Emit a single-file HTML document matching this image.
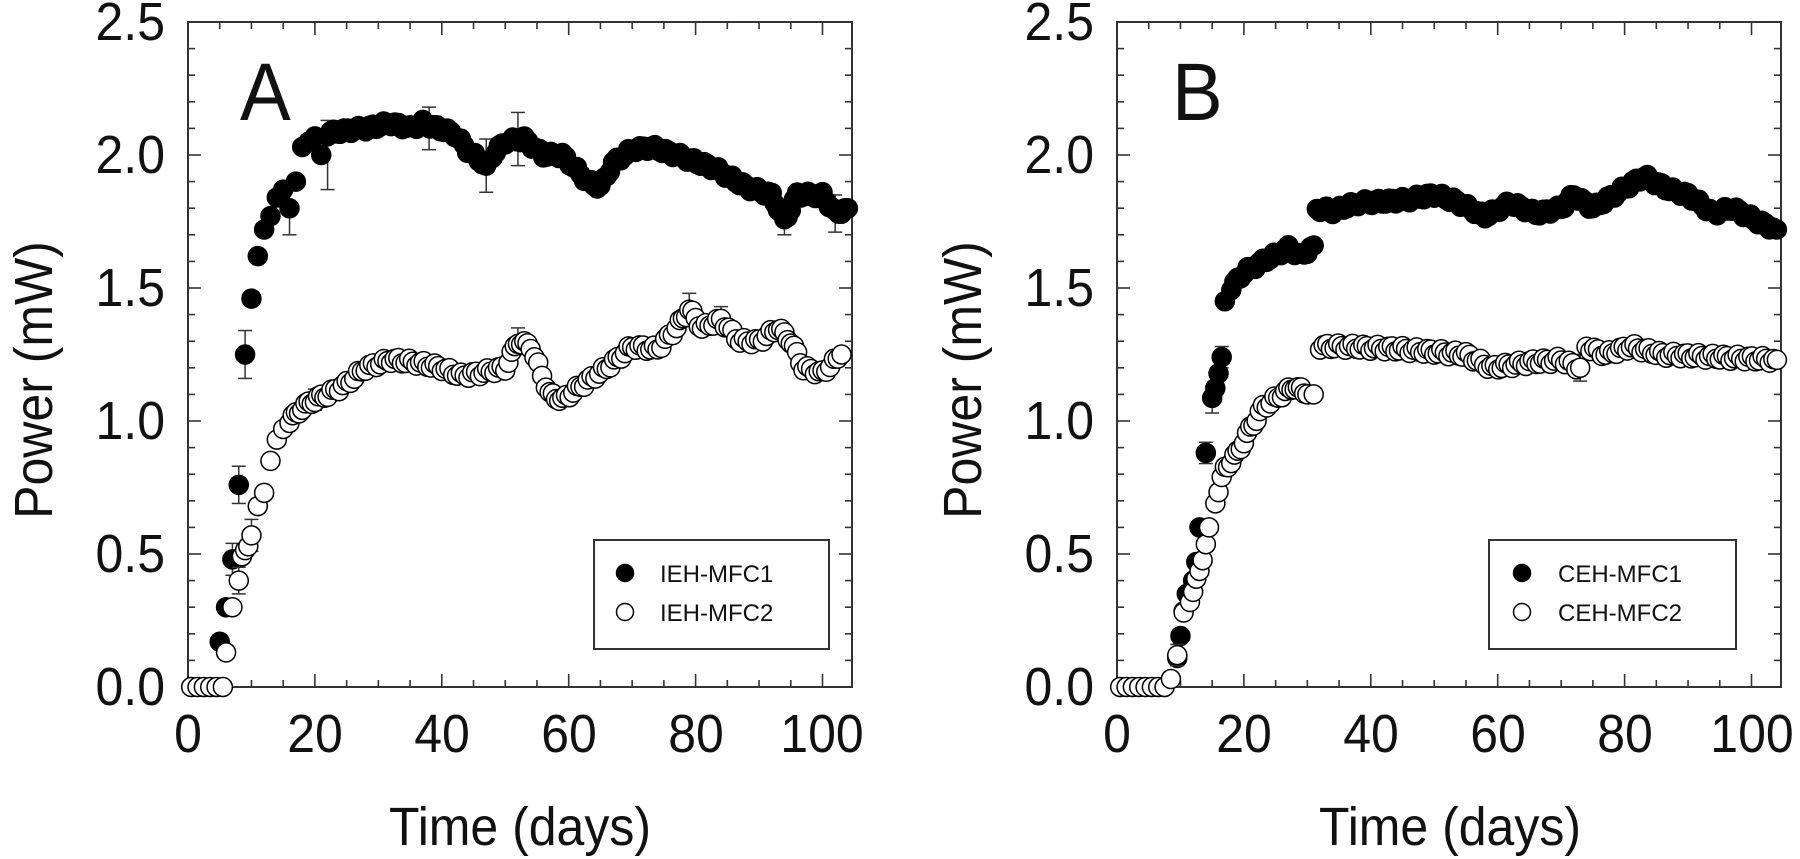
<!DOCTYPE html>
<html><head><meta charset="utf-8"><style>
html,body{margin:0;padding:0;background:#fff;}
svg{display:block;font-family:"Liberation Sans",Arial,sans-serif;}
</style></head><body>
<svg id="s" width="1800" height="859" viewBox="0 0 1800 859" xmlns="http://www.w3.org/2000/svg">
<g font-size="50" fill="#111" text-anchor="end">
<g transform="translate(0,40) scale(1,1.08)"><text x="165" y="0">2.5</text></g>
<g transform="translate(0,173) scale(1,1.08)"><text x="165" y="0">2.0</text></g>
<g transform="translate(0,306) scale(1,1.08)"><text x="165" y="0">1.5</text></g>
<g transform="translate(0,439) scale(1,1.08)"><text x="165" y="0">1.0</text></g>
<g transform="translate(0,572) scale(1,1.08)"><text x="165" y="0">0.5</text></g>
<g transform="translate(0,705) scale(1,1.08)"><text x="165" y="0">0.0</text></g>
<g transform="translate(0,40) scale(1,1.08)"><text x="1094" y="0">2.5</text></g>
<g transform="translate(0,173) scale(1,1.08)"><text x="1094" y="0">2.0</text></g>
<g transform="translate(0,306) scale(1,1.08)"><text x="1094" y="0">1.5</text></g>
<g transform="translate(0,439) scale(1,1.08)"><text x="1094" y="0">1.0</text></g>
<g transform="translate(0,572) scale(1,1.08)"><text x="1094" y="0">0.5</text></g>
<g transform="translate(0,705) scale(1,1.08)"><text x="1094" y="0">0.0</text></g>
</g>
<g font-size="50" fill="#111" text-anchor="middle">
<g transform="translate(0,752) scale(1,1.08)">
<text x="188" y="0">0</text><text x="315" y="0">20</text><text x="442" y="0">40</text><text x="569" y="0">60</text><text x="696" y="0">80</text><text x="822" y="0">100</text>
<text x="1117" y="0">0</text><text x="1244" y="0">20</text><text x="1371" y="0">40</text><text x="1498" y="0">60</text><text x="1625" y="0">80</text><text x="1752" y="0">100</text>
</g>
<g transform="translate(0,845) scale(1,1.08)"><text x="520" y="0">Time (days)</text><text x="1450" y="0">Time (days)</text></g>
<text transform="translate(52,380) rotate(-90) scale(1,1.08)">Power (mW)</text>
<text transform="translate(981,380) rotate(-90) scale(1,1.08)">Power (mW)</text>
</g>
<text transform="translate(240,120) scale(1,1.08)" font-size="76" fill="#111">A</text>
<text transform="translate(1172,120) scale(1,1.08)" font-size="76" fill="#111">B</text>
<g id="plots"></g>
<g font-size="24" fill="#111">
<rect x="594" y="540" width="235" height="109" fill="#fff" stroke="#333" stroke-width="2"/>
<circle cx="625" cy="573" r="8.5" fill="#000" stroke="#000" stroke-width="1.5"/>
<circle cx="625" cy="612" r="8.5" fill="#fff" stroke="#000" stroke-width="1.5"/>
<text x="660" y="582">IEH-MFC1</text><text x="660" y="621">IEH-MFC2</text>
<rect x="1489" y="540" width="247" height="109" fill="#fff" stroke="#333" stroke-width="2"/>
<circle cx="1522" cy="573" r="8.5" fill="#000" stroke="#000" stroke-width="1.5"/>
<circle cx="1522" cy="612" r="8.5" fill="#fff" stroke="#000" stroke-width="1.5"/>
<text x="1558" y="582">CEH-MFC1</text><text x="1558" y="621">CEH-MFC2</text>
</g>
</svg>
<script>
(function(){
var NS="http://www.w3.org/2000/svg";
var g=document.getElementById('plots');
function el(n,a){var e=document.createElementNS(NS,n);for(var k in a)e.setAttribute(k,a[k]);g.appendChild(e);return e;}
function axes(x0){
 var L=x0,R=x0+664,T=22,B=687;
 el('rect',{x:L,y:T,width:R-L,height:B-T,fill:'none',stroke:'#333','stroke-width':2});
 for(var d=0;d<=105;d+=5){var x=x0+d*6.345;if(x>R-1)break;var len=(d%20==0)?13:7;
  el('line',{x1:x,y1:B,x2:x,y2:B-len,stroke:'#333','stroke-width':1.6});
  el('line',{x1:x,y1:T,x2:x,y2:T+len,stroke:'#333','stroke-width':1.6});}
 for(var i=0;i<=25;i++){var y=B-i*26.6;var len=(i%5==0)?13:7;
  el('line',{x1:L,y1:y,x2:L+len,y2:y,stroke:'#333','stroke-width':1.6});
  el('line',{x1:R,y1:y,x2:R-len,y2:y,stroke:'#333','stroke-width':1.6});}
}
function pts(k){var out=[];for(var i=0;i<k.length-1;i++){var a=k[i],b=k[i+1];var dx=b[0]-a[0];var n=dx>1.2?Math.max(1,Math.round(dx/0.55)):1;for(var j=0;j<n;j++){var t=j/n;out.push([a[0]+dx*t,a[1]+(b[1]-a[1])*t+(dx>1.2?Math.sin((a[0]+dx*t)*3.1)*0.012:0)]);}}out.push(k[k.length-1]);return out;}
function series(x0,k,fill,errs){
 var p=pts(k);
 if(errs)errs.forEach(function(e){var x=x0+e[0]*6.345,y1=687-(e[1]+e[2])*266,y2=687-(e[1]-e[2])*266;
  el('line',{x1:x,y1:y1,x2:x,y2:y2,stroke:'#333','stroke-width':1.5});
  el('line',{x1:x-7,y1:y1,x2:x+7,y2:y1,stroke:'#333','stroke-width':1.5});
  el('line',{x1:x-7,y1:y2,x2:x+7,y2:y2,stroke:'#333','stroke-width':1.5});});
 p.forEach(function(q){el('circle',{cx:x0+q[0]*6.345,cy:687-q[1]*266,r:9.5,fill:fill,stroke:'#000','stroke-width':1.5});});
}
axes(188);axes(1117);
var A1=[[5,0.17],[6,0.3],[7,0.48],[8,0.76],[9,1.25],[10,1.46],[11,1.62],[12,1.72],[13,1.77],[14,1.84],[15,1.87],[16,1.8],[17,1.9],[18,2.03],[19,2.05],[20,2.07],[21,2.0],[22,2.08],[24,2.09],[28,2.1],[32,2.12],[35,2.1],[37,2.12],[42,2.08],[44,2.02],[47,1.96],[48,2.0],[50,2.05],[53,2.06],[56,2.0],[59,2.0],[63,1.9],[65,1.88],[67,1.97],[70,2.02],[73,2.03],[77,2.0],[83,1.95],[88,1.88],[92,1.85],[94,1.75],[96,1.85],[100,1.85],[102,1.78],[104,1.8]];
var A2=[[0.5,0],[1.5,0],[2.5,0],[3.5,0],[4.5,0],[5.5,0],[6,0.13],[7,0.3],[8,0.4],[8.5,0.48],[10,0.57],[11,0.68],[12,0.73],[13,0.85],[14,0.93],[15,0.97],[16,1.0],[18,1.05],[20,1.08],[22,1.1],[25,1.14],[28,1.2],[32,1.23],[36,1.22],[40,1.2],[43,1.17],[46,1.18],[50,1.2],[52,1.3],[54,1.28],[57,1.1],[59,1.08],[63,1.15],[66,1.2],[70,1.28],[74,1.27],[77,1.35],[79,1.42],[81,1.35],[84,1.38],[87,1.3],[90,1.3],[93,1.35],[95,1.3],[97,1.2],[100,1.18],[103,1.25]];
var B1=[[9.5,0.12],[11,0.35],[12,0.4],[12.5,0.47],[13,0.6],[14,0.88],[15,1.08],[16.5,1.24],[17,1.45],[18,1.5],[20,1.56],[23,1.6],[27,1.65],[29,1.62],[31,1.66],[31.5,1.8],[34,1.79],[38,1.82],[45,1.83],[50,1.85],[53,1.83],[58,1.77],[62,1.82],[66,1.78],[70,1.8],[72,1.85],[75,1.8],[79,1.86],[83,1.92],[87,1.87],[90,1.85],[94,1.78],[97,1.8],[101,1.75],[104,1.72]];
var B2=[[0.5,0],[1.5,0],[2.5,0],[3.5,0],[4.5,0],[5.5,0],[6.5,0],[7.5,0],[8.5,0.03],[9.5,0.12],[10.5,0.28],[11.5,0.33],[13,0.43],[14.5,0.6],[15.5,0.7],[17,0.82],[19,0.88],[21,0.97],[23,1.05],[26,1.1],[28,1.13],[30,1.1],[31,1.1],[32,1.28],[36,1.28],[45,1.27],[55,1.25],[59,1.2],[65,1.22],[70,1.23],[73,1.2],[74,1.28],[77,1.25],[81,1.28],[86,1.25],[95,1.24],[104,1.23]];
series(188,A1,'#000',[[8,0.76,0.07],[9,1.25,0.09],[16,1.8,0.1],[22,2.0,0.13],[38,2.1,0.08],[47,1.96,0.1],[52,2.06,0.1],[94,1.75,0.05],[102,1.78,0.07],[7,0.48,0.06]]);
series(188,A2,'#fff',[[79,1.42,0.06],[84,1.38,0.05],[52,1.3,0.05],[20,1.08,0.04],[8,0.4,0.05],[10,0.57,0.06]]);
series(1117,B1,'#000',[[15,1.08,0.05],[16.5,1.24,0.04],[14,0.88,0.04]]);
series(1117,B2,'#fff',[[73,1.2,0.05],[9.5,0.12,0.04]]);
})();
</script>
</body></html>
